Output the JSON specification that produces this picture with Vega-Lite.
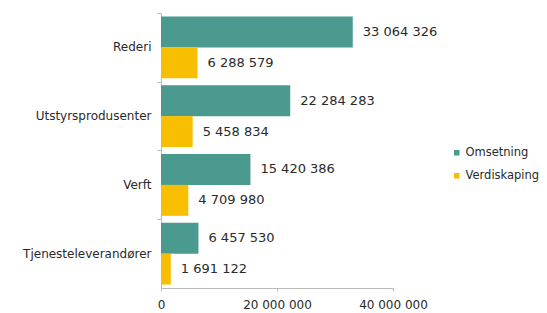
{
  "$schema": "https://vega.github.io/schema/vega-lite/v6.json",
  "width": 232,
  "height": 275,
  "autosize": "none",
  "padding": {"left": 161, "top": 13, "right": 154, "bottom": 25},
  "config": {
    "locale": {"number": {"decimal": ",", "thousands": " ", "grouping": [3], "currency": ["", " kr"]}},
    "font": "DejaVu Sans",
    "view": {"stroke": null},
    "background": "white"
  },
  "data": {
    "values": [
      {"kategori": "Rederi", "serie": "Omsetning", "verdi": 33064326},
      {"kategori": "Rederi", "serie": "Verdiskaping", "verdi": 6288579},
      {"kategori": "Utstyrsprodusenter", "serie": "Omsetning", "verdi": 22284283},
      {"kategori": "Utstyrsprodusenter", "serie": "Verdiskaping", "verdi": 5458834},
      {"kategori": "Verft", "serie": "Omsetning", "verdi": 15420386},
      {"kategori": "Verft", "serie": "Verdiskaping", "verdi": 4709980},
      {"kategori": "Tjenesteleverandører", "serie": "Omsetning", "verdi": 6457530},
      {"kategori": "Tjenesteleverandører", "serie": "Verdiskaping", "verdi": 1691122}
    ]
  },
  "encoding": {
    "y": {
      "field": "kategori", "type": "nominal", "sort": null,
      "scale": {"paddingInner": 0.1, "paddingOuter": 0.05},
      "axis": {"title": null, "labelFontSize": 12, "labelColor": "#2a2a2a", "labelPadding": 6,
               "tickSize": 4, "tickColor": "#bbbbbb", "domainColor": "#bbbbbb", "bandPosition": -0.05}
    },
    "yOffset": {"field": "serie", "type": "nominal", "sort": ["Omsetning", "Verdiskaping"]},
    "x": {
      "field": "verdi", "type": "quantitative",
      "scale": {"domain": [0, 40000000], "nice": false},
      "axis": {"title": null, "values": [0, 20000000, 40000000], "format": ",d", "grid": false,
               "labelFontSize": 12, "labelColor": "#2a2a2a", "labelPadding": 8,
               "tickSize": 3, "tickColor": "#bbbbbb", "domainColor": "#bbbbbb", "labelFlush": false}
    }
  },
  "layer": [
    {
      "mark": {"type": "bar"},
      "encoding": {
        "color": {
          "field": "serie", "type": "nominal",
          "scale": {"domain": ["Omsetning", "Verdiskaping"], "range": ["#4a9a90", "#f8be00"]},
          "legend": {"title": null, "orient": "none", "legendX": 290, "legendY": 134,
                     "symbolType": "square", "symbolSize": 30, "labelFontSize": 11.5,
                     "labelColor": "#2a2a2a", "rowPadding": 10, "labelOffset": 3}
        }
      }
    },
    {
      "mark": {"type": "text", "align": "left", "dx": 10, "fontSize": 13, "color": "#2a2a2a"},
      "encoding": {"text": {"field": "verdi", "type": "quantitative", "format": ",d"}}
    }
  ]
}
